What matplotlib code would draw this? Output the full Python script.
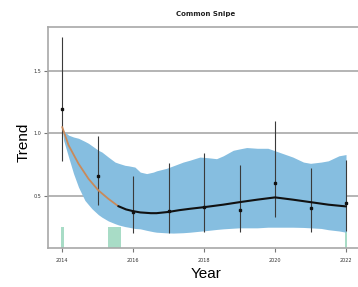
import matplotlib
matplotlib.use("Agg")
import matplotlib.pyplot as plt
import numpy as np

# --- data ---
years = [2014, 2015, 2016, 2017, 2018, 2019, 2020, 2021, 2022]
index_vals = [1.19, 0.66, 0.37, 0.38, 0.41, 0.385, 0.60, 0.40, 0.44]
err_low = [0.78, 0.43, 0.20, 0.20, 0.215, 0.21, 0.33, 0.21, 0.22]
err_high = [1.77, 0.976, 0.66, 0.76, 0.84, 0.75, 1.10, 0.72, 0.79]

trend_x_early = [2014.0, 2014.18, 2014.46, 2014.74, 2015.02, 2015.3, 2015.58]
trend_early = [1.05, 0.904, 0.757, 0.637, 0.544, 0.477, 0.418]
trend_x_late = [2015.58, 2015.8, 2016.0, 2016.2, 2016.5, 2016.66, 2017.0, 2017.3,
                2017.6, 2018.0, 2018.54, 2019.0, 2019.5, 2020.0, 2020.5, 2021.0,
                2021.5, 2022.0]
trend_late = [0.418, 0.392, 0.378, 0.368, 0.362, 0.362, 0.372, 0.386,
              0.397, 0.41, 0.43, 0.45, 0.47, 0.488, 0.47, 0.45,
              0.43, 0.416]

band_x = [2014.0, 2014.04, 2014.18, 2014.32, 2014.46, 2014.64, 2014.74, 2014.84,
          2015.02, 2015.12, 2015.3, 2015.49, 2015.59, 2015.77, 2015.87, 2016.05,
          2016.2, 2016.38, 2016.57, 2016.66, 2016.94, 2017.13, 2017.41, 2017.6,
          2017.88, 2018.1, 2018.35, 2018.54, 2018.82, 2019.0, 2019.2, 2019.5,
          2019.8, 2020.0, 2020.5, 2020.8, 2021.0, 2021.3, 2021.5, 2021.8, 2022.0]
band_upper = [1.05, 1.02, 0.985, 0.97, 0.96, 0.935, 0.92, 0.90,
              0.864, 0.85, 0.81, 0.77, 0.76, 0.744, 0.74, 0.73,
              0.69, 0.678, 0.69, 0.70, 0.72, 0.74, 0.77, 0.785,
              0.81, 0.805, 0.797, 0.82, 0.864, 0.875, 0.886, 0.88,
              0.88, 0.86, 0.81, 0.77, 0.76, 0.77, 0.78, 0.82, 0.83]
band_lower = [1.05, 0.944, 0.81, 0.678, 0.57, 0.464, 0.43, 0.397,
              0.35, 0.33, 0.30, 0.278, 0.268, 0.255, 0.25, 0.24,
              0.237, 0.225, 0.214, 0.21, 0.205, 0.203, 0.206, 0.21,
              0.218, 0.224, 0.232, 0.237, 0.242, 0.245, 0.245, 0.245,
              0.25, 0.25, 0.25, 0.248, 0.245, 0.24, 0.23, 0.22, 0.21]

bar_x = [2014.0, 2015.48, 2022.0]
bar_h = [0.17, 0.17, 0.17]
bar_w = [0.09, 0.36, 0.06]

y_ticks = [0.5, 1.0, 1.5]
x_ticks = [2014, 2016, 2018, 2020, 2022]

ymin, ymax = 0.084, 1.846

fig = plt.figure(figsize=(3.58, 2.87), dpi=100)
ax = fig.add_axes([48 / 358, 0.1359, 314 / 358, 0.769])
ax.set_xlim(2013.6, 2022.45)
ax.set_ylim(ymin, ymax)

grid_c = "#a8a8a8"
for v in y_ticks:
    ax.axhline(v, color=grid_c, lw=1.2, zorder=1)

ax.bar(bar_x, bar_h, width=bar_w, bottom=ymin, color="#a8dcc6", zorder=2, linewidth=0)
ax.fill_between(band_x, band_lower, band_upper, color="#86bee0", lw=0, zorder=3)

ax.vlines(years, err_low, err_high, color="#3a3a3a", lw=0.8, zorder=4)
ax.plot(years, index_vals, "s", color="#111111", ms=1.8, zorder=6)

ax.plot(trend_x_early, trend_early, color="#c98a5a", lw=1.3, zorder=5,
        solid_capstyle="round", solid_joinstyle="round")
ax.plot(trend_x_late, trend_late, color="#111111", lw=1.5, zorder=5,
        solid_capstyle="round", solid_joinstyle="round")

for s in ["left", "top", "bottom", "right"]:
    ax.spines[s].set_color("#a8a8a8")
    ax.spines[s].set_linewidth(1.2)

ax.set_yticks(y_ticks)
ax.set_yticklabels([f"{v:.1f}" for v in y_ticks])
ax.set_xticks(x_ticks)
ax.set_xticklabels([str(v) for v in x_ticks])
ax.tick_params(axis="both", labelsize=3.5, length=3, width=0.8, color="#777777",
               labelcolor="#333333")
ax.tick_params(axis="y", pad=2)
ax.tick_params(axis="x", pad=4)

fig.text(206 / 358, 1 - 14 / 287, "Common Snipe", ha="center", va="center",
         fontsize=5, fontweight="bold", color="#222222")
fig.text(24 / 358, 1 - 142 / 287, "Trend", ha="center", va="center",
         rotation=90, fontsize=11, family="Liberation Sans")
fig.text(206 / 358, 1 - 274 / 287, "Year", ha="center", va="center",
         fontsize=11, family="Liberation Sans")

fig.savefig("out.png", dpi=100)
